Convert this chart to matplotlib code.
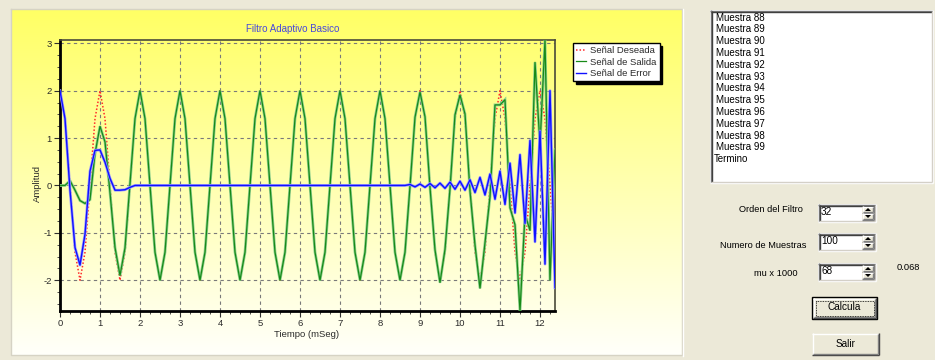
import numpy as np
import matplotlib
matplotlib.use("Agg")
import matplotlib.pyplot as plt
from matplotlib.patches import Rectangle, Polygon
from matplotlib.ticker import MultipleLocator, FixedLocator

plt.rcParams['font.family'] = ['Liberation Sans', 'DejaVu Sans']
plt.rcParams['axes.unicode_minus'] = False

# ---------------------------------------------------------------- data
SAMPLE_PERIOD_MS = 0.125

desired = [
    2.0, 1.41, 0.0, -1.41, -2.0, -1.41, 0.0, 1.41,
    2.0, 1.41, 0.0, -1.41, -2.0, -1.41, 0.0, 1.41,
    2.0, 1.41, 0.0, -1.41, -2.0, -1.41, 0.0, 1.41,
    2.0, 1.41, 0.0, -1.41, -2.0, -1.41, 0.0, 1.41,
    2.0, 1.41, 0.0, -1.41, -2.0, -1.41, 0.0, 1.41,
    2.0, 1.41, 0.0, -1.41, -2.0, -1.41, 0.0, 1.41,
    2.0, 1.41, 0.0, -1.41, -2.0, -1.41, 0.0, 1.41,
    2.0, 1.41, 0.0, -1.41, -2.0, -1.41, 0.0, 1.41,
    2.0, 1.41, 0.0, -1.41, -2.0, -1.41, 0.0, 1.41,
    2.0, 1.41, 0.0, -1.41, -2.0, -1.41, 0.0, 1.41,
    2.0, 1.41, 0.0, -1.41, -2.0, -1.41, 0.0, 1.41,
    2.0, 1.41, 0.0, -1.41, -2.0, -1.41, 0.0, 1.41,
    2.0, 1.41, 0.0, -1.41,
]

output = [
    0.0, 0.0, 0.1, -0.1, -0.32, -0.38, -0.3, 0.67,
    1.25, 0.92, -0.15, -1.31, -1.9, -1.32, 0.04, 1.41,
    2.0, 1.41, 0.0, -1.41, -2.0, -1.41, 0.0, 1.41,
    2.0, 1.41, 0.0, -1.41, -2.0, -1.41, 0.0, 1.41,
    2.0, 1.41, 0.0, -1.41, -2.0, -1.41, 0.0, 1.41,
    2.0, 1.41, 0.0, -1.41, -2.0, -1.41, 0.0, 1.41,
    2.0, 1.41, 0.0, -1.41, -2.0, -1.41, 0.0, 1.41,
    2.0, 1.41, 0.0, -1.41, -2.0, -1.41, 0.0, 1.41,
    2.0, 1.41, 0.0, -1.41, -2.0, -1.41, -0.02, 1.44,
    1.97, 1.45, -0.04, -1.36, -2.05, -1.35, -0.07, 1.49,
    1.91, 1.51, -0.12, -1.26, -2.17, -1.21, -0.24, 1.70,
    1.70, 1.81, -0.47, -0.83, -2.65, -0.61, -0.95, 2.60,
    0.85, 3.07, -2.00, 0.75,
]

error = [
    2.0, 1.41, -0.1, -1.31, -1.68, -1.03, 0.3, 0.74,
    0.75, 0.49, 0.15, -0.1, -0.1, -0.09, -0.04, 0.0,
    0.0, 0.0, 0.0, 0.0, 0.0, 0.0, 0.0, 0.0,
    0.0, 0.0, 0.0, 0.0, 0.0, 0.0, 0.0, 0.0,
    0.0, 0.0, 0.0, 0.0, 0.0, 0.0, 0.0, 0.0,
    0.0, 0.0, 0.0, 0.0, 0.0, 0.0, 0.0, 0.0,
    0.0, 0.0, 0.0, 0.0, 0.0, 0.0, 0.0, 0.0,
    0.0, 0.0, 0.0, 0.0, 0.0, 0.0, 0.0, 0.0,
    0.0, 0.0, 0.0, 0.0, 0.0, 0.0, 0.02, -0.03,
    0.03, -0.04, 0.04, -0.05, 0.05, -0.06, 0.07, -0.08,
    0.09, -0.10, 0.12, -0.15, 0.17, -0.20, 0.24, -0.29,
    0.30, -0.40, 0.47, -0.58, 0.65, -0.80, 0.95, -1.19,
    1.15, -1.66, 2.00, -2.16,
]

series_labels = ["Señal Deseada", "Señal de Salida", "Señal de Error"]
x_ticks = [0, 1, 2, 3, 4, 5, 6, 7, 8, 9, 10, 11, 12]
y_ticks = [-2, -1, 0, 1, 2, 3]

log_lines = ["Muestra 88", "Muestra 89", "Muestra 90", "Muestra 91",
             "Muestra 92", "Muestra 93", "Muestra 94", "Muestra 95",
             "Muestra 96", "Muestra 97", "Muestra 98", "Muestra 99",
             "Termino"]

filter_order = "32"
n_samples = "100"
mu_x1000 = "68"
mu_value = "0.068"

# ---------------------------------------------------------------- figure
W, H = 935, 360
fig = plt.figure(figsize=(W / 100, H / 100), dpi=100)
fig.patch.set_facecolor('#ECE9D8')

# full-window layer in pixel coordinates (origin top-left)
ui = fig.add_axes([0, 0, 1, 1], zorder=0)
ui.set_axis_off()

# chart panel with vertical yellow -> white gradient
top_c = np.array([255, 255, 100]) / 255
bot_c = np.array([255, 255, 250]) / 255
f = np.linspace(0, 1, 256)[:, None, None]
grad = top_c * (1 - f) + bot_c * f
ui.imshow(grad, extent=(11, 682, 355, 9), aspect='auto',
          interpolation='bilinear', zorder=0)
ui.plot([11, 682, 682, 11, 11], [9, 9, 355, 355, 9], color='#d6d3c4', lw=1, zorder=1)
ui.plot([683, 683], [9, 356], color='#ffffff', lw=1, zorder=1)
ui.set_xlim(0, W)
ui.set_ylim(H, 0)

# ---------------------------------------------------------------- chart
t = np.arange(len(desired)) * SAMPLE_PERIOD_MS
ax = fig.add_axes([60 / W, 1 - 311 / H, 495 / W, 271 / H], zorder=2)
ax.patch.set_alpha(0)

l_d, = ax.plot(t, desired, color='#ff2a2a', ls=(0, (1, 1.3)), lw=1.1, zorder=3)
ax.plot(t, output, color='#8fd08f', lw=2.0, zorder=4, solid_joinstyle='miter')
l_y, = ax.plot(t, output, color='#178a17', lw=0.9, zorder=4.5)
ax.plot(t, error, color='#9a9aff', lw=2.0, zorder=5)
l_e, = ax.plot(t, error, color='#1010ff', lw=1.0, zorder=5.5)

all_vals = desired + output + error
ax.set_xlim(t[0], t[-1])
ax.set_ylim(min(all_vals), max(all_vals))

ax.xaxis.set_major_locator(FixedLocator(x_ticks))
ax.yaxis.set_major_locator(FixedLocator(y_ticks))
ax.xaxis.set_minor_locator(MultipleLocator(0.25))
ax.yaxis.set_minor_locator(MultipleLocator(0.25))
ax.grid(True, which='major', color='#7a7a7a', ls=(0, (3, 3)), lw=0.8)
ax.tick_params(which='major', direction='out', length=4, width=0.8,
               color='#303030', labelsize=6.8, labelcolor='#2a2a2a', pad=2)
ax.tick_params(which='minor', direction='out', length=2, width=0.6, color='#303030')

for side in ('left', 'bottom'):
    ax.spines[side].set_linewidth(2)
    ax.spines[side].set_color('black')
for side in ('top', 'right'):
    ax.spines[side].set_linewidth(1.2)
    ax.spines[side].set_color('#4a4a3a')

ax.set_xlabel('Tiempo (mSeg)', fontsize=6.8, color='#2a2a2a')
ax.xaxis.set_label_coords(0.499, (311 - 330) / 271)
ax.set_ylabel('Amplitud', fontsize=6.8, color='#2a2a2a')
ax.yaxis.set_label_coords((42 - 60) / 495, (311 - 183) / 271)

fig.text(292.5 / W, 1 - 29.5 / H, 'Filtro Adaptivo Basico', fontsize=7,
         color='#4848dc', ha='center', va='center')

leg = ax.legend([l_d, l_y, l_e], series_labels, loc='upper left',
                bbox_to_anchor=(573 / W, 1 - 43 / H), bbox_transform=fig.transFigure,
                borderaxespad=0, fontsize=6.8, handlelength=1.0, handletextpad=0.45,
                labelspacing=0.25, borderpad=0.35, fancybox=False, framealpha=1,
                edgecolor='black', facecolor='white',
                shadow={'color': 'black', 'alpha': 1})
leg.get_frame().set_linewidth(1.0)
leg.set_zorder(10)
for txt in leg.get_texts():
    txt.set_color('#2a2a2a')

# ---------------------------------------------------------------- controls
def hline(x0, x1, y, c):
    ui.plot([x0, x1], [y, y], color=c, lw=1, solid_capstyle='butt', zorder=3)


def vline(x, y0, y1, c):
    ui.plot([x, x], [y0, y1], color=c, lw=1, solid_capstyle='butt', zorder=3)


def sunken(x0, y0, x1, y1, face='white'):
    ui.add_patch(Rectangle((x0, y0), x1 - x0, y1 - y0, fc=face, ec='none', zorder=2))
    hline(x0, x1, y0 + 0.5, '#808080')
    vline(x0 + 0.5, y0, y1, '#808080')
    hline(x0 + 1, x1 - 1, y0 + 1.5, '#404040')
    vline(x0 + 1.5, y0 + 1, y1 - 1, '#404040')
    hline(x0, x1, y1 - 0.5, '#ffffff')
    vline(x1 - 0.5, y0, y1, '#ffffff')
    hline(x0 + 1, x1 - 1, y1 - 1.5, '#d4d0c8')
    vline(x1 - 1.5, y0 + 1, y1 - 1, '#d4d0c8')


def raised(x0, y0, x1, y1, face='#ECE9D8', outer_dark='#404040'):
    ui.add_patch(Rectangle((x0, y0), x1 - x0, y1 - y0, fc=face, ec='none', zorder=2))
    hline(x0, x1, y0 + 0.5, '#ffffff')
    vline(x0 + 0.5, y0, y1, '#ffffff')
    hline(x0, x1, y1 - 0.5, outer_dark)
    vline(x1 - 0.5, y0, y1, outer_dark)
    hline(x0 + 1, x1 - 1, y1 - 1.5, '#808080')
    vline(x1 - 1.5, y0 + 1, y1 - 1, '#808080')


# log list box
sunken(710, 10, 933, 183)
for i, s in enumerate(log_lines):
    x = 714 if s == 'Termino' else 716.5
    ui.text(x, 20.6 + i * 11.8, s, fontsize=7.0, color='black',
            ha='left', va='baseline', zorder=4)


def spin_box(x0, y0, x1, y1, value):
    sunken(x0, y0, x1, y1)
    bx0, bx1 = x1 - 14, x1 - 2
    by0, by1 = y0 + 2, y1 - 2
    ym = (by0 + by1) / 2
    raised(bx0, by0, bx1, ym, outer_dark='#808080')
    raised(bx0, ym, bx1, by1, outer_dark='#808080')
    cx = (bx0 + bx1) / 2
    ui.add_patch(Polygon([[cx - 3, ym - 2], [cx + 3, ym - 2], [cx, ym - 5]],
                         closed=True, fc='black', ec='none', zorder=4))
    ui.add_patch(Polygon([[cx - 3, ym + 2], [cx + 3, ym + 2], [cx, ym + 5]],
                         closed=True, fc='black', ec='none', zorder=4))
    ui.text(x0 + 3, (y0 + y1) / 2 - 1, value, fontsize=7.2, color='black',
            ha='left', va='center', zorder=4)


ui.text(803, 210, 'Orden del Filtro', fontsize=6.7, ha='right', va='center', zorder=4)
spin_box(818, 204, 876, 222, filter_order)

ui.text(806.5, 245, 'Numero de Muestras', fontsize=6.7, ha='right', va='center', zorder=4)
spin_box(818, 233, 876, 251, n_samples)

ui.text(798, 274, 'mu x 1000', fontsize=6.7, ha='right', va='center', zorder=4)
spin_box(818, 263, 876, 281, mu_x1000)
ui.text(897, 268, mu_value, fontsize=6.7, ha='left', va='center', zorder=4)

# default (focused) button
ui.add_patch(Rectangle((811.5, 296.5), 65, 22, fc='none', ec='black', lw=1, zorder=3))
raised(813, 298, 876, 318)
ui.add_patch(Rectangle((815.5, 300.5), 58, 15, fc='none', ec='black', lw=0.6,
                       ls=(0, (1, 1)), zorder=4))
ui.text(844, 307.5, 'Calcula', fontsize=7.2, ha='center', va='center', zorder=5)

raised(812, 333, 879, 355)
ui.text(845.5, 344, 'Salir', fontsize=7.2, ha='center', va='center', zorder=5)

fig.savefig('out.png', dpi=100, facecolor=fig.get_facecolor())
